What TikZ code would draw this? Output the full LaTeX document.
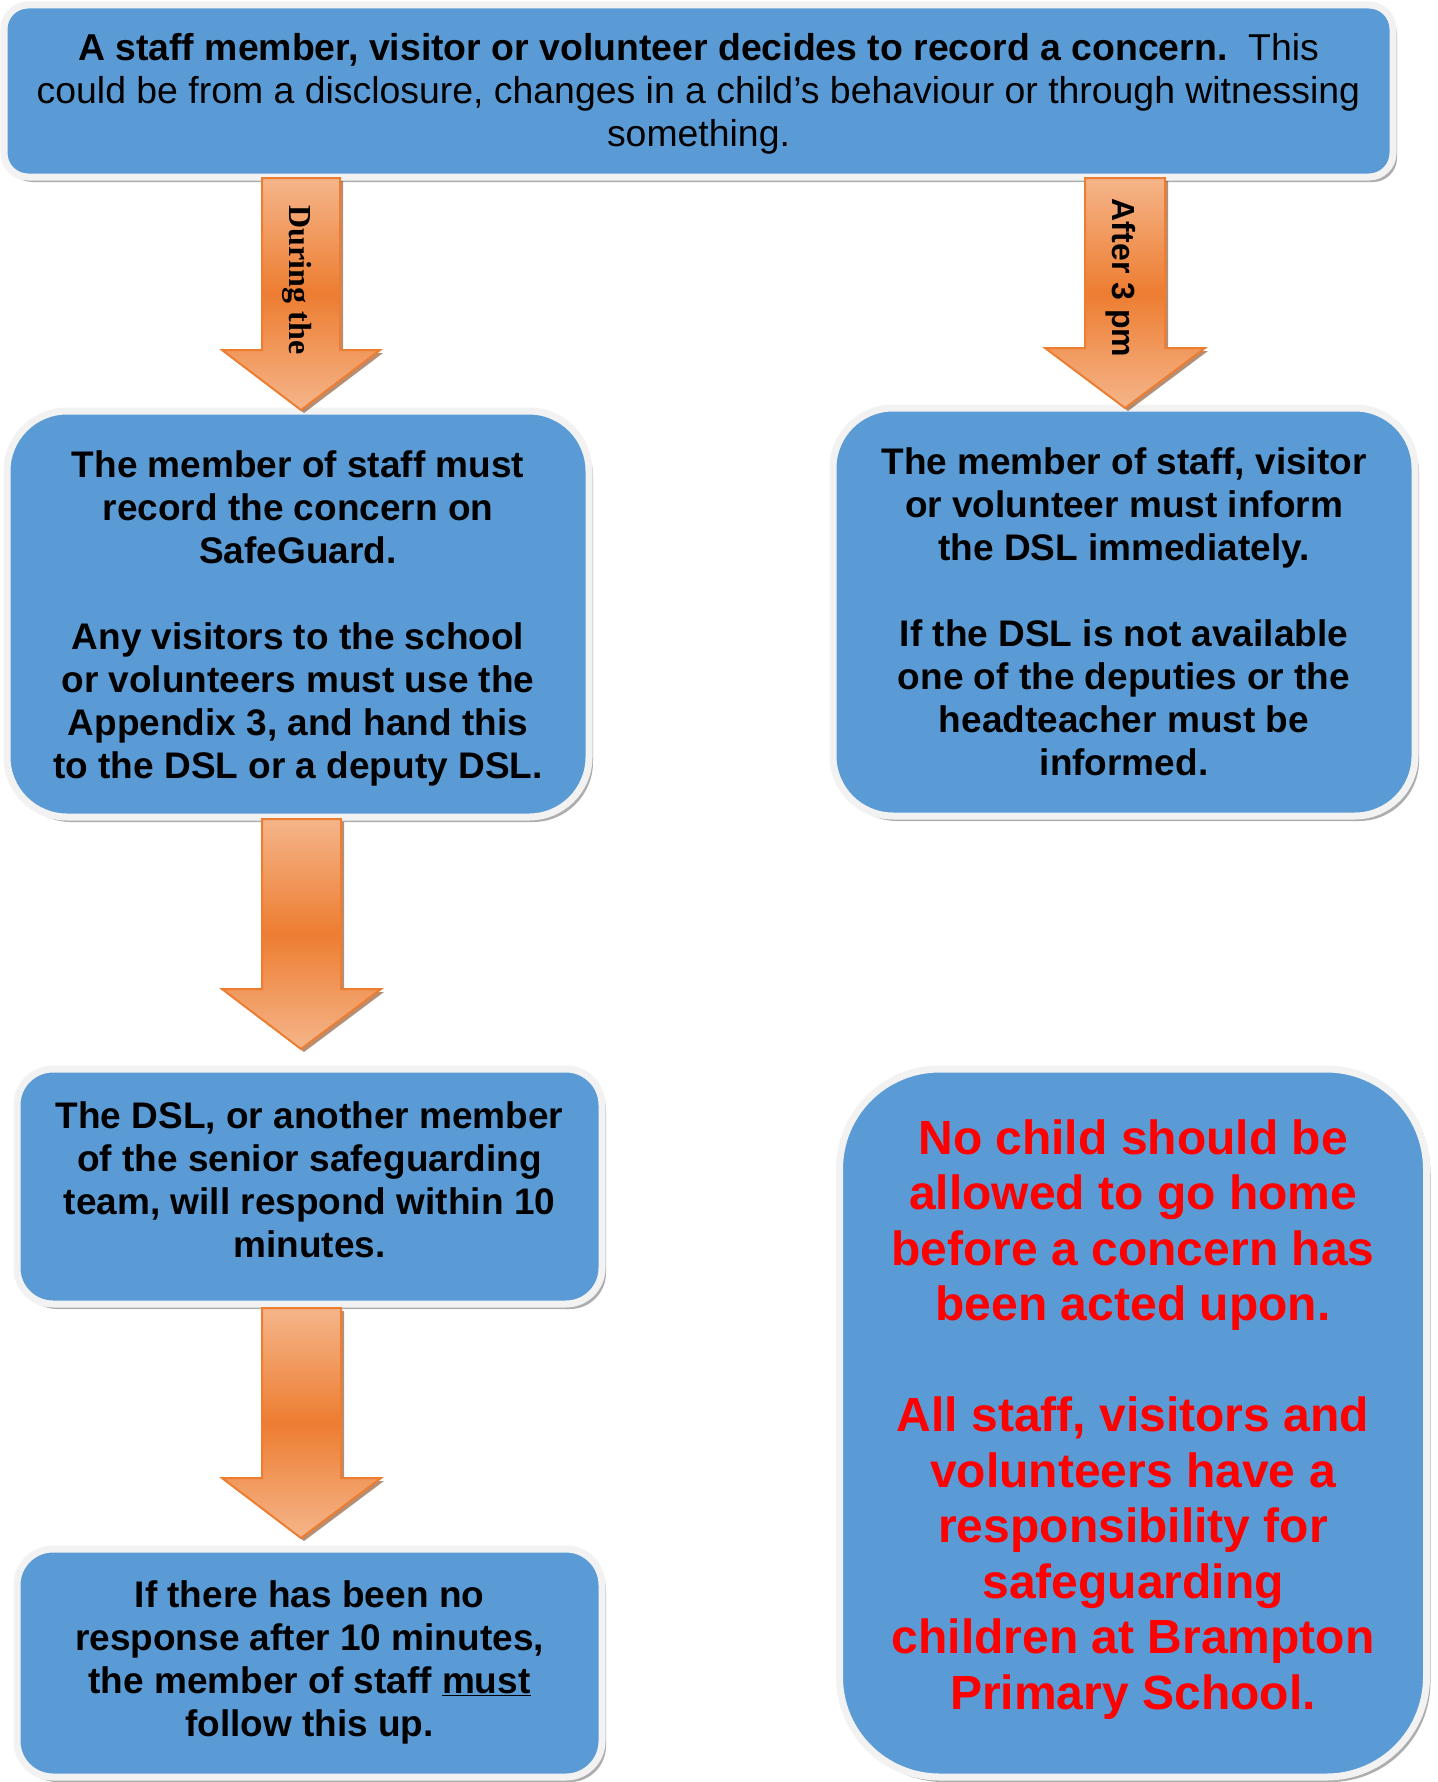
\documentclass[tikz,border=0pt]{standalone}
\usepackage{fontspec}
\setmainfont{Liberation Sans}
\newfontfamily\timesf{Liberation Serif}
\usetikzlibrary{shadows}
\definecolor{boxblue}{HTML}{5B9BD5}
\definecolor{rimgray}{HTML}{F2F2F2}
\definecolor{arrorange}{HTML}{ED7D31}
\definecolor{arrlight}{HTML}{F5B58A}
\definecolor{alertred}{HTML}{FF0000}
\begin{document}
\begin{tikzpicture}[x=1pt,y=-1pt,
  flowbox/.style={fill=boxblue, draw=rimgray, line width=7pt, inner sep=0pt,
    drop shadow={shadow xshift=4pt, shadow yshift=-5pt, fill=black!40, opacity=0.8}},
  boxtext/.style={align=center, inner sep=0pt, font=\fontsize{37}{43}\selectfont\bfseries},
  blockarrow/.style={top color=arrlight, bottom color=arrlight, middle color=arrorange,
    draw=arrorange, line width=2pt, line join=miter,
    drop shadow={shadow xshift=3pt, shadow yshift=-3pt, fill=arrorange!55!black, opacity=0.6}},
  arrowlabel/.style={rotate=-90, inner sep=0pt, font=\fontsize{32}{36}\selectfont\bfseries}]
\useasboundingbox[fill=white] (0,0) rectangle (1437,1782);

% boxes
\node[flowbox, minimum width=1389pt, minimum height=172pt, rounded corners=24pt] (top) at (698.5,91) {};
\node[boxtext, font=\fontsize{37.4}{43}\selectfont] (toptext) at ([yshift=-3pt]top.center)
  {{\bfseries A staff member, visitor or volunteer decides to record a concern.}\ \ This\\
   could be from a disclosure, changes in a child’s behaviour or through witnessing\\
   something.};

\node[flowbox, minimum width=582pt, minimum height=406pt, rounded corners=60pt] (during) at (298,614) {};
\node[boxtext] (duringtext) at ([yshift=-4pt]during.center)
  {The member of staff must\\record the concern on\\SafeGuard.\\[43pt]
   Any visitors to the school\\or volunteers must use the\\Appendix 3, and hand this\\to the DSL or a deputy DSL.};

\node[flowbox, minimum width=582pt, minimum height=408pt, rounded corners=60pt] (after) at (1124,612) {};
\node[boxtext] (aftertext) at (after.center)
  {The member of staff, visitor\\or volunteer must inform\\the DSL immediately.\\[43pt]
   If the DSL is not available\\one of the deputies or the\\headteacher must be\\informed.};

\node[flowbox, minimum width=585pt, minimum height=235pt, rounded corners=36pt] (respond) at (309.5,1186.5) {};
\node[boxtext] (respondtext) at ([yshift=7pt]respond.center)
  {The DSL, or another member\\of the senior safeguarding\\team, will respond within 10\\minutes.};

\node[flowbox, minimum width=585pt, minimum height=228pt, rounded corners=36pt] (follow) at (309.5,1663) {};
\node[boxtext] (followtext) at ([yshift=1pt]follow.center)
  {If there has been no\\response after 10 minutes,\\the member of staff \underline{must}\\follow this up.};

\node[flowbox, minimum width=587pt, minimum height=708pt, rounded corners=100pt] (warning) at (1133,1423) {};
\node[boxtext, font=\fontsize{48}{55.5}\selectfont\bfseries, text=alertred] (warningtext) at ([yshift=3.5pt]warning.center)
  {No child should be\\allowed to go home\\before a concern has\\been acted upon.\\[55.5pt]
   All staff, visitors and\\volunteers have a\\responsibility for\\safeguarding\\children at Brampton\\Primary School.};

% block arrows
\path[blockarrow] (262,178) -- (340,178) -- (340,350) -- (380,350) -- (301,410)
  -- (222,350) -- (262,350) -- cycle;
\path[blockarrow] (1085,178) -- (1165,178) -- (1165,348) -- (1205,348) -- (1125,408)
  -- (1045,348) -- (1085,348) -- cycle;
\path[blockarrow] (262,819) -- (341,819) -- (341,989) -- (381,989) -- (301,1049)
  -- (222,989) -- (262,989) -- cycle;
\path[blockarrow] (262,1308) -- (341,1308) -- (341,1478) -- (381,1478) -- (301,1538)
  -- (222,1478) -- (262,1478) -- cycle;

\node[arrowlabel, font=\timesf\fontsize{32}{36}\selectfont\bfseries] (lblduring) at (297,280) {During the};
\node[arrowlabel] (lblafter) at (1121,278) {After 3 pm};
\end{tikzpicture}
\end{document}
